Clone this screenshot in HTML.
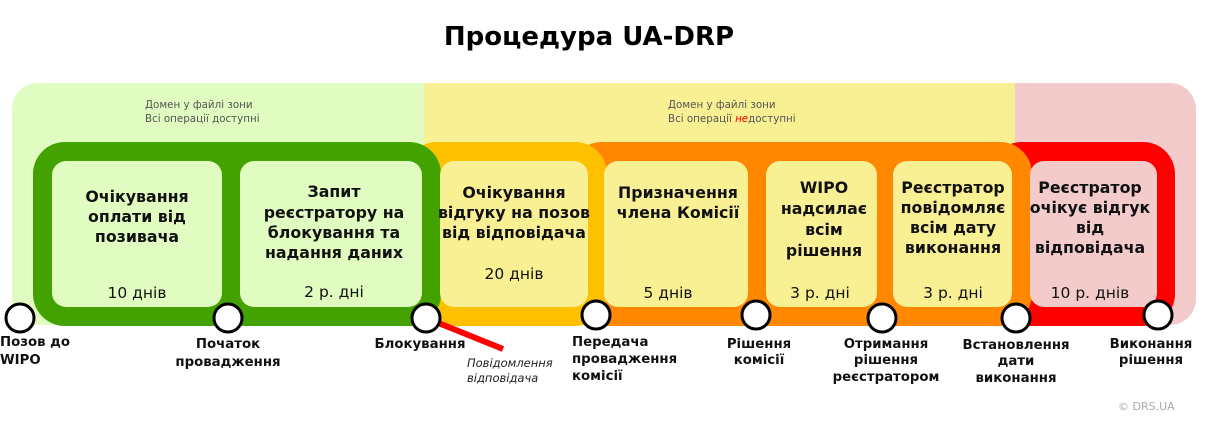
<!DOCTYPE html>
<html><head><meta charset="utf-8"><style>
body{margin:0;background:#fff;}
svg{display:block;font-family:"DejaVu Sans","Liberation Sans",sans-serif;}
.b{font-weight:bold;font-size:15.8px;fill:#111;text-anchor:middle;}
.d{font-size:15.5px;fill:#111;text-anchor:middle;}
.l{font-weight:bold;font-size:13.3px;fill:#111;text-anchor:middle;}
.s{font-size:10.3px;fill:#555;}
</style></head><body>
<svg width="1205" height="422" viewBox="0 0 1205 422" xmlns="http://www.w3.org/2000/svg">
<text x="589" y="45" font-size="26" font-weight="bold" text-anchor="middle" fill="#000">Процедура UA-DRP</text>
<defs><clipPath id="bg"><rect x="12" y="83" width="1184" height="242" rx="26"/></clipPath></defs>
<g clip-path="url(#bg)">
<rect x="0" y="83" width="424" height="260" fill="#E0FCC0"/>
<rect x="424" y="83" width="591" height="260" fill="#F9F093"/>
<rect x="1015" y="83" width="200" height="260" fill="#F3CBCB"/>
</g>
<text class="s" x="145" y="108">Домен у файлі зони</text>
<text class="s" x="145" y="122">Всі операції доступні</text>
<text class="s" x="668" y="108">Домен у файлі зони</text>
<text class="s" x="668" y="122">Всі операції <tspan fill="#f00" font-style="italic">не</tspan>доступні</text>
<rect x="990" y="142" width="185" height="184" rx="32" fill="#FF0000"/>
<rect x="570" y="142" width="462" height="184" rx="32" fill="#FF8800"/>
<rect x="405" y="142" width="202" height="184" rx="32" fill="#FFC000"/>
<rect x="33" y="142" width="408" height="184" rx="32" fill="#44A200"/>
<rect x="52" y="161" width="170" height="146" rx="14" fill="#E0FCC0"/>
<rect x="240" y="161" width="182" height="146" rx="14" fill="#E0FCC0"/>
<rect x="440" y="161" width="148" height="146" rx="14" fill="#F9F093"/>
<rect x="604" y="161" width="144" height="146" rx="14" fill="#F9F093"/>
<rect x="766" y="161" width="111" height="146" rx="14" fill="#F9F093"/>
<rect x="893" y="161" width="119" height="146" rx="14" fill="#F9F093"/>
<rect x="1030" y="161" width="127" height="146" rx="14" fill="#F3CBCB"/>
<g class="b">
<text x="137" y="202">Очікування</text><text x="137" y="222">оплати від</text><text x="137" y="242">позивача</text>
<text x="334" y="197">Запит</text><text x="334" y="218">реєстратору на</text><text x="334" y="238">блокування та</text><text x="334" y="258">надання даних</text>
<text x="514" y="198">Очікування</text><text x="514" y="218">відгуку на позов</text><text x="514" y="238">від відповідача</text>
<text x="678" y="198">Призначення</text><text x="678" y="218">члена Комісії</text>
<text x="824" y="193">WIPO</text><text x="824" y="214">надсилає</text><text x="824" y="235">всім</text><text x="824" y="256">рішення</text>
<text x="953" y="193">Реєстратор</text><text x="953" y="213">повідомляє</text><text x="953" y="233">всім дату</text><text x="953" y="253">виконання</text>
<text x="1090" y="193">Реєстратор</text><text x="1090" y="213">очікує відгук</text><text x="1090" y="233">від</text><text x="1090" y="253">відповідача</text>
</g>
<g class="d">
<text x="137" y="298">10 днів</text><text x="334" y="297">2 р. дні</text><text x="514" y="279">20 днів</text>
<text x="668" y="298">5 днів</text><text x="820" y="298">3 р. дні</text><text x="953" y="298">3 р. дні</text><text x="1090" y="298">10 р. днів</text>
</g>
<line x1="426" y1="318" x2="503" y2="349" stroke="#f00" stroke-width="6"/>
<g fill="#fff" stroke="#000" stroke-width="3">
<circle cx="20" cy="318" r="14"/><circle cx="228" cy="318" r="14"/><circle cx="426" cy="318" r="14"/>
<circle cx="596" cy="315" r="14"/><circle cx="756" cy="315" r="14"/><circle cx="882" cy="318" r="14"/>
<circle cx="1016" cy="318" r="14"/><circle cx="1158" cy="315" r="14"/>
</g>
<g class="l">
<text x="0" y="346" text-anchor="start">Позов до</text><text x="0" y="364" text-anchor="start">WIPO</text>
<text x="228" y="348">Початок</text><text x="228" y="366">провадження</text>
<text x="420" y="348">Блокування</text>
<text x="572" y="346" text-anchor="start">Передача</text><text x="572" y="363" text-anchor="start">провадження</text><text x="572" y="380" text-anchor="start">комісії</text>
<text x="759" y="348">Рішення</text><text x="759" y="364">комісії</text>
<text x="886" y="348">Отримання</text><text x="886" y="364">рішення</text><text x="886" y="381">реєстратором</text>
<text x="1016" y="349">Встановлення</text><text x="1016" y="365">дати</text><text x="1016" y="382">виконання</text>
<text x="1151" y="348">Виконання</text><text x="1151" y="364">рішення</text>
</g>
<text x="467" y="367" font-size="11.5" font-style="italic" fill="#222">Повідомлення</text>
<text x="467" y="382" font-size="11.5" font-style="italic" fill="#222">відповідача</text>
<text x="1118" y="410" font-size="11" fill="#aaa">© DRS.UA</text>
</svg>
</body></html>
